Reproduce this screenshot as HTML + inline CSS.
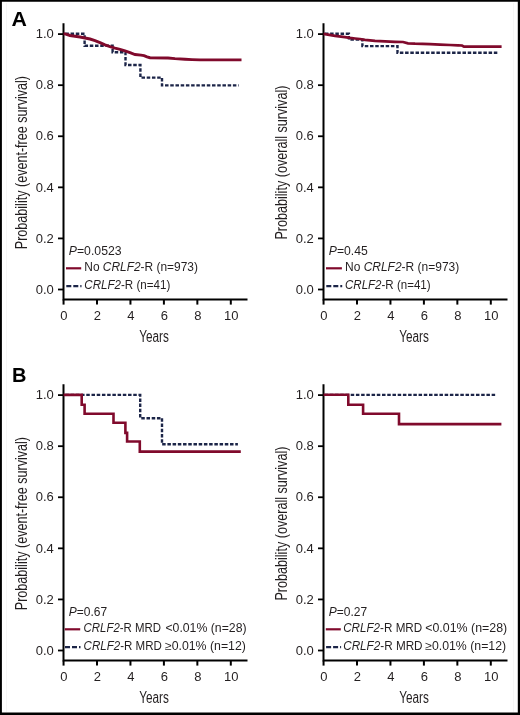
<!DOCTYPE html>
<html><head><meta charset="utf-8"><title>Kaplan-Meier curves</title>
<style>
html,body{margin:0;padding:0;background:#fff;width:520px;height:715px;overflow:hidden;}
svg{display:block;will-change:transform;}

text{font-family:"Liberation Sans",sans-serif;fill:#231f20;opacity:0.995;}
.tk{font-size:13px;}
.ax{font-size:16px;}
.lg{font-size:12.2px;}
.pl{font-size:20px;font-weight:bold;fill:#000;}
</style></head><body>
<svg width="520" height="715" viewBox="0 0 520 715">
<rect x="0" y="0" width="520" height="715" fill="#fff"/>
<text x="11.6" y="25.8" class="pl" textLength="15.4" lengthAdjust="spacingAndGlyphs">A</text>
<text x="12" y="381.6" class="pl">B</text>
<path d="M63.5 23.2V299.4H247.5" fill="none" stroke="#000" stroke-width="2"/>
<path d="M58 289.5H63.5" stroke="#000" stroke-width="1.8"/>
<text x="53.8" y="293.7" text-anchor="end" class="tk">0.0</text>
<path d="M58 238.42H63.5" stroke="#000" stroke-width="1.8"/>
<text x="53.8" y="242.62" text-anchor="end" class="tk">0.2</text>
<path d="M58 187.34H63.5" stroke="#000" stroke-width="1.8"/>
<text x="53.8" y="191.54" text-anchor="end" class="tk">0.4</text>
<path d="M58 136.26H63.5" stroke="#000" stroke-width="1.8"/>
<text x="53.8" y="140.46" text-anchor="end" class="tk">0.6</text>
<path d="M58 85.18H63.5" stroke="#000" stroke-width="1.8"/>
<text x="53.8" y="89.38" text-anchor="end" class="tk">0.8</text>
<path d="M58 34.1H63.5" stroke="#000" stroke-width="1.8"/>
<text x="53.8" y="38.3" text-anchor="end" class="tk">1.0</text>
<path d="M63.55 299.4V304.6" stroke="#000" stroke-width="2"/>
<text x="63.95" y="320.2" text-anchor="middle" class="tk">0</text>
<path d="M97 299.4V304.6" stroke="#000" stroke-width="2"/>
<text x="97.4" y="320.2" text-anchor="middle" class="tk">2</text>
<path d="M130.45 299.4V304.6" stroke="#000" stroke-width="2"/>
<text x="130.85" y="320.2" text-anchor="middle" class="tk">4</text>
<path d="M163.9 299.4V304.6" stroke="#000" stroke-width="2"/>
<text x="164.3" y="320.2" text-anchor="middle" class="tk">6</text>
<path d="M197.35 299.4V304.6" stroke="#000" stroke-width="2"/>
<text x="197.75" y="320.2" text-anchor="middle" class="tk">8</text>
<path d="M230.8 299.4V304.6" stroke="#000" stroke-width="2"/>
<text x="231.2" y="320.2" text-anchor="middle" class="tk">10</text>
<text x="139.2" y="342.3" class="ax" textLength="29.7" lengthAdjust="spacingAndGlyphs">Years</text>
<text transform="translate(26.6 162.6) rotate(-90)" class="ax" text-anchor="middle" textLength="173.3" lengthAdjust="spacingAndGlyphs">Probability (event-free survival)</text>
<polyline points="63.6,33.7 84.6,33.7 84.6,45.8 112.6,45.8 112.6,52.2 125.5,52.2 125.5,65 140.4,65 140.4,77.6 162,77.6 162,85.4 238.7,85.4" fill="none" stroke="#1c2548" stroke-width="2.4" stroke-dasharray="3.5 1.72" stroke-dashoffset="-1.75"/>
<polyline points="63.6,33.8 65,33.9 70,35.5 75,36.3 80,37 85,38 90,39 95,40.6 100,42.6 105,44.9 110,46.7 115,48.1 120,49.3 125,50.8 130,52.7 135,54.5 141,55.1 144,55.6 147,56.9 150,57.7 168,58 175,58.6 185,59.2 192,59.6 200,59.9 241.5,59.9" fill="none" stroke="#800a2c" stroke-width="2.9" stroke-linejoin="miter"/>
<text x="68.8" y="254.5" class="lg" textLength="52.8" lengthAdjust="spacingAndGlyphs"><tspan font-style="italic">P</tspan>=0.0523</text>
<path d="M66 268.3H81.2" stroke="#800a2c" stroke-width="2.2"/>
<text x="84.3" y="270.6" class="lg" textLength="113.6" lengthAdjust="spacingAndGlyphs">No <tspan font-style="italic">CRLF2</tspan>-R (n=973)</text>
<path d="M66.3 286.2H81.5" stroke="#1c2548" stroke-width="2.3" stroke-dasharray="5 2"/>
<text x="84.3" y="288.8" class="lg" textLength="86" lengthAdjust="spacingAndGlyphs"><tspan font-style="italic">CRLF2</tspan>-R (n=41)</text>
<path d="M323.5 23.2V299.4H507.5" fill="none" stroke="#000" stroke-width="2"/>
<path d="M318 289.5H323.5" stroke="#000" stroke-width="1.8"/>
<text x="313.8" y="293.7" text-anchor="end" class="tk">0.0</text>
<path d="M318 238.42H323.5" stroke="#000" stroke-width="1.8"/>
<text x="313.8" y="242.62" text-anchor="end" class="tk">0.2</text>
<path d="M318 187.34H323.5" stroke="#000" stroke-width="1.8"/>
<text x="313.8" y="191.54" text-anchor="end" class="tk">0.4</text>
<path d="M318 136.26H323.5" stroke="#000" stroke-width="1.8"/>
<text x="313.8" y="140.46" text-anchor="end" class="tk">0.6</text>
<path d="M318 85.18H323.5" stroke="#000" stroke-width="1.8"/>
<text x="313.8" y="89.38" text-anchor="end" class="tk">0.8</text>
<path d="M318 34.1H323.5" stroke="#000" stroke-width="1.8"/>
<text x="313.8" y="38.3" text-anchor="end" class="tk">1.0</text>
<path d="M323.55 299.4V304.6" stroke="#000" stroke-width="2"/>
<text x="323.95" y="320.2" text-anchor="middle" class="tk">0</text>
<path d="M357 299.4V304.6" stroke="#000" stroke-width="2"/>
<text x="357.4" y="320.2" text-anchor="middle" class="tk">2</text>
<path d="M390.45 299.4V304.6" stroke="#000" stroke-width="2"/>
<text x="390.85" y="320.2" text-anchor="middle" class="tk">4</text>
<path d="M423.9 299.4V304.6" stroke="#000" stroke-width="2"/>
<text x="424.3" y="320.2" text-anchor="middle" class="tk">6</text>
<path d="M457.35 299.4V304.6" stroke="#000" stroke-width="2"/>
<text x="457.75" y="320.2" text-anchor="middle" class="tk">8</text>
<path d="M490.8 299.4V304.6" stroke="#000" stroke-width="2"/>
<text x="491.2" y="320.2" text-anchor="middle" class="tk">10</text>
<text x="399.2" y="342.3" class="ax" textLength="29.7" lengthAdjust="spacingAndGlyphs">Years</text>
<text transform="translate(286.6 162.6) rotate(-90)" class="ax" text-anchor="middle" textLength="154" lengthAdjust="spacingAndGlyphs">Probability (overall survival)</text>
<polyline points="323.6,33.8 348.9,33.8 348.9,39.6 362.4,39.6 362.4,46.1 397.5,46.1 397.5,52.8 498.1,52.8" fill="none" stroke="#1c2548" stroke-width="2.4" stroke-dasharray="3.5 1.72" stroke-dashoffset="-1.3"/>
<polyline points="323.6,33.9 325,34.1 335,35.9 345,37.1 350,37.9 355,38.5 360,39 365,39.8 375,40.8 385,41.4 395,41.8 403,42 408,43.3 415,43.7 430,44.1 440,44.6 450,45 458,45.3 462,45.5 464,46.7 501.6,46.7" fill="none" stroke="#800a2c" stroke-width="2.7" stroke-linejoin="miter"/>
<text x="328.8" y="254.5" class="lg" textLength="39" lengthAdjust="spacingAndGlyphs"><tspan font-style="italic">P</tspan>=0.45</text>
<path d="M326 268.3H341.9" stroke="#800a2c" stroke-width="2.2"/>
<text x="345" y="270.6" class="lg" textLength="114.2" lengthAdjust="spacingAndGlyphs">No <tspan font-style="italic">CRLF2</tspan>-R (n=973)</text>
<path d="M326.3 286.2H342.2" stroke="#1c2548" stroke-width="2.3" stroke-dasharray="5 2"/>
<text x="345" y="288.8" class="lg" textLength="85.6" lengthAdjust="spacingAndGlyphs"><tspan font-style="italic">CRLF2</tspan>-R (n=41)</text>
<path d="M63.5 384.2V660.4H247.5" fill="none" stroke="#000" stroke-width="2"/>
<path d="M58 650.5H63.5" stroke="#000" stroke-width="1.8"/>
<text x="53.8" y="654.7" text-anchor="end" class="tk">0.0</text>
<path d="M58 599.42H63.5" stroke="#000" stroke-width="1.8"/>
<text x="53.8" y="603.62" text-anchor="end" class="tk">0.2</text>
<path d="M58 548.34H63.5" stroke="#000" stroke-width="1.8"/>
<text x="53.8" y="552.54" text-anchor="end" class="tk">0.4</text>
<path d="M58 497.26H63.5" stroke="#000" stroke-width="1.8"/>
<text x="53.8" y="501.46" text-anchor="end" class="tk">0.6</text>
<path d="M58 446.18H63.5" stroke="#000" stroke-width="1.8"/>
<text x="53.8" y="450.38" text-anchor="end" class="tk">0.8</text>
<path d="M58 395.1H63.5" stroke="#000" stroke-width="1.8"/>
<text x="53.8" y="399.3" text-anchor="end" class="tk">1.0</text>
<path d="M63.55 660.4V665.6" stroke="#000" stroke-width="2"/>
<text x="63.95" y="681.2" text-anchor="middle" class="tk">0</text>
<path d="M97 660.4V665.6" stroke="#000" stroke-width="2"/>
<text x="97.4" y="681.2" text-anchor="middle" class="tk">2</text>
<path d="M130.45 660.4V665.6" stroke="#000" stroke-width="2"/>
<text x="130.85" y="681.2" text-anchor="middle" class="tk">4</text>
<path d="M163.9 660.4V665.6" stroke="#000" stroke-width="2"/>
<text x="164.3" y="681.2" text-anchor="middle" class="tk">6</text>
<path d="M197.35 660.4V665.6" stroke="#000" stroke-width="2"/>
<text x="197.75" y="681.2" text-anchor="middle" class="tk">8</text>
<path d="M230.8 660.4V665.6" stroke="#000" stroke-width="2"/>
<text x="231.2" y="681.2" text-anchor="middle" class="tk">10</text>
<text x="139.2" y="703.3" class="ax" textLength="29.7" lengthAdjust="spacingAndGlyphs">Years</text>
<text transform="translate(26.6 523.6) rotate(-90)" class="ax" text-anchor="middle" textLength="173.3" lengthAdjust="spacingAndGlyphs">Probability (event-free survival)</text>
<polyline points="63.6,394.9 140.2,394.9 140.2,418.2 162,418.2 162,444.3 237.9,444.3" fill="none" stroke="#1c2548" stroke-width="2.4" stroke-dasharray="3.5 1.72" stroke-dashoffset="-1.8"/>
<polyline points="63.6,394.9 81.7,394.9 81.7,404.8 84.6,404.8 84.6,413.8 113.5,413.8 113.5,422.8 125.4,422.8 125.4,432.9 127.1,432.9 127.1,441.5 139.8,441.5 139.8,451.6 240.8,451.6" fill="none" stroke="#800a2c" stroke-width="2.6" stroke-linejoin="miter"/>
<text x="68.8" y="615.5" class="lg" textLength="38.4" lengthAdjust="spacingAndGlyphs"><tspan font-style="italic">P</tspan>=0.67</text>
<path d="M64.7 629.3H80.2" stroke="#800a2c" stroke-width="2.2"/>
<text x="83.6" y="631.6" class="lg" textLength="77.5" lengthAdjust="spacingAndGlyphs"><tspan font-style="italic">CRLF2</tspan>-R MRD</text>
<text x="165.4" y="631.6" class="lg" textLength="81.2" lengthAdjust="spacingAndGlyphs">&lt;0.01% (n=28)</text>
<path d="M65 647.2H80.5" stroke="#1c2548" stroke-width="2.3" stroke-dasharray="5 2"/>
<text x="83.6" y="649.8" class="lg" textLength="78.2" lengthAdjust="spacingAndGlyphs"><tspan font-style="italic">CRLF2</tspan>-R MRD</text>
<text x="164.9" y="649.8" class="lg" textLength="81" lengthAdjust="spacingAndGlyphs">≥0.01% (n=12)</text>
<path d="M323.5 384.2V660.4H507.5" fill="none" stroke="#000" stroke-width="2"/>
<path d="M318 650.5H323.5" stroke="#000" stroke-width="1.8"/>
<text x="313.8" y="654.7" text-anchor="end" class="tk">0.0</text>
<path d="M318 599.42H323.5" stroke="#000" stroke-width="1.8"/>
<text x="313.8" y="603.62" text-anchor="end" class="tk">0.2</text>
<path d="M318 548.34H323.5" stroke="#000" stroke-width="1.8"/>
<text x="313.8" y="552.54" text-anchor="end" class="tk">0.4</text>
<path d="M318 497.26H323.5" stroke="#000" stroke-width="1.8"/>
<text x="313.8" y="501.46" text-anchor="end" class="tk">0.6</text>
<path d="M318 446.18H323.5" stroke="#000" stroke-width="1.8"/>
<text x="313.8" y="450.38" text-anchor="end" class="tk">0.8</text>
<path d="M318 395.1H323.5" stroke="#000" stroke-width="1.8"/>
<text x="313.8" y="399.3" text-anchor="end" class="tk">1.0</text>
<path d="M323.55 660.4V665.6" stroke="#000" stroke-width="2"/>
<text x="323.95" y="681.2" text-anchor="middle" class="tk">0</text>
<path d="M357 660.4V665.6" stroke="#000" stroke-width="2"/>
<text x="357.4" y="681.2" text-anchor="middle" class="tk">2</text>
<path d="M390.45 660.4V665.6" stroke="#000" stroke-width="2"/>
<text x="390.85" y="681.2" text-anchor="middle" class="tk">4</text>
<path d="M423.9 660.4V665.6" stroke="#000" stroke-width="2"/>
<text x="424.3" y="681.2" text-anchor="middle" class="tk">6</text>
<path d="M457.35 660.4V665.6" stroke="#000" stroke-width="2"/>
<text x="457.75" y="681.2" text-anchor="middle" class="tk">8</text>
<path d="M490.8 660.4V665.6" stroke="#000" stroke-width="2"/>
<text x="491.2" y="681.2" text-anchor="middle" class="tk">10</text>
<text x="399.2" y="703.3" class="ax" textLength="29.7" lengthAdjust="spacingAndGlyphs">Years</text>
<text transform="translate(286.6 523.6) rotate(-90)" class="ax" text-anchor="middle" textLength="154" lengthAdjust="spacingAndGlyphs">Probability (overall survival)</text>
<polyline points="323.6,394.9 496.4,394.9" fill="none" stroke="#1c2548" stroke-width="2.4" stroke-dasharray="3.5 1.72" stroke-dashoffset="-1"/>
<polyline points="323.6,394.8 348.3,394.8 348.3,404.8 363.1,404.8 363.1,413.8 399,413.8 399,424.1 501.4,424.1" fill="none" stroke="#800a2c" stroke-width="2.6" stroke-linejoin="miter"/>
<text x="328.8" y="615.5" class="lg" textLength="38.4" lengthAdjust="spacingAndGlyphs"><tspan font-style="italic">P</tspan>=0.27</text>
<path d="M325.8 629.3H340.8" stroke="#800a2c" stroke-width="2.2"/>
<text x="343.2" y="631.6" class="lg" textLength="79" lengthAdjust="spacingAndGlyphs"><tspan font-style="italic">CRLF2</tspan>-R MRD</text>
<text x="425.2" y="631.6" class="lg" textLength="82" lengthAdjust="spacingAndGlyphs">&lt;0.01% (n=28)</text>
<path d="M326.1 647.2H341.1" stroke="#1c2548" stroke-width="2.3" stroke-dasharray="5 2"/>
<text x="343.2" y="649.8" class="lg" textLength="79.4" lengthAdjust="spacingAndGlyphs"><tspan font-style="italic">CRLF2</tspan>-R MRD</text>
<text x="425.2" y="649.8" class="lg" textLength="80.9" lengthAdjust="spacingAndGlyphs">≥0.01% (n=12)</text>
<path d="M6.5 3V712M513.5 3V712" stroke="#f6f6f6" stroke-width="1"/>
<path d="M0 0H520V715H0Z M1.9 1.8V712.5H517.8V1.8Z" fill="#000" fill-rule="evenodd"/>
</svg>
</body></html>
